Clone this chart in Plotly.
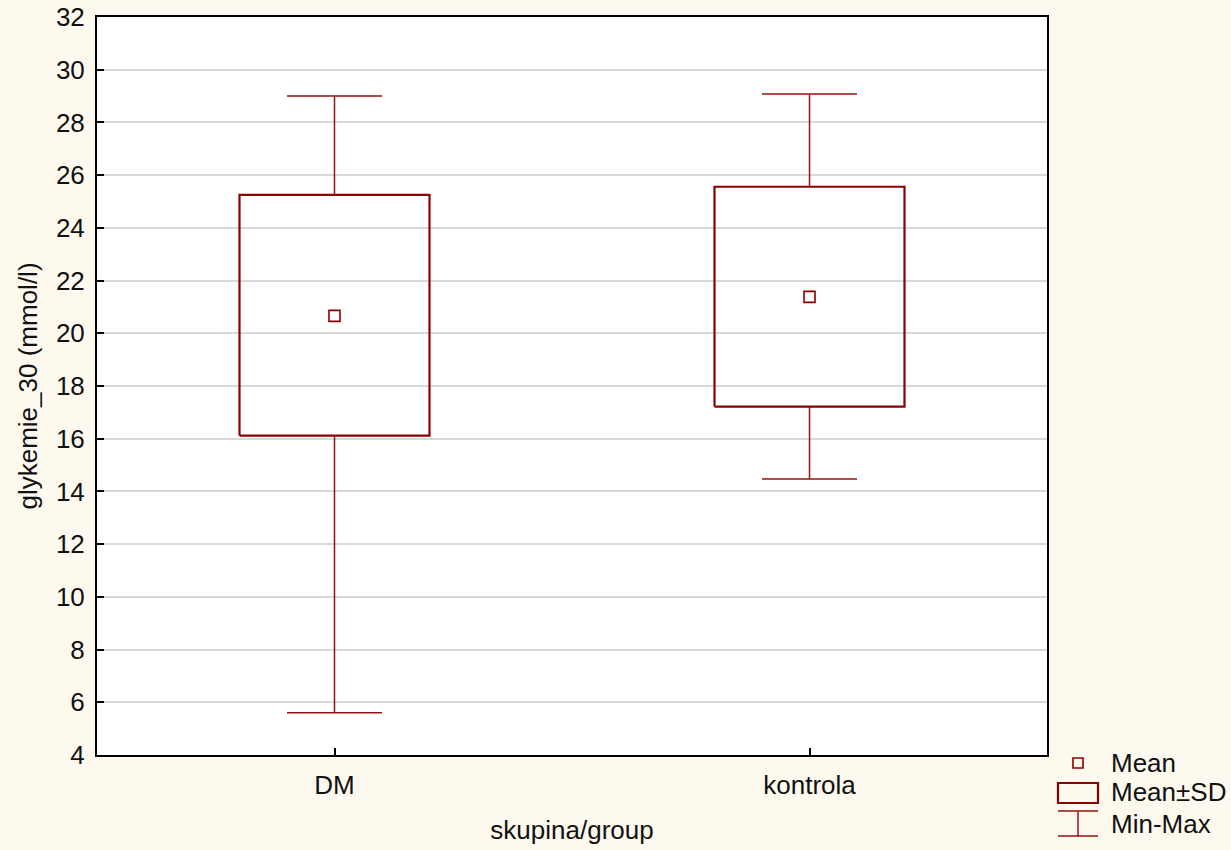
import plotly.graph_objects as go

categories = ["DM", "kontrola"]
means = [20.66, 21.38]
sd_upper = [25.25, 25.56]
sd_lower = [16.12, 17.22]
maxs = [29.0, 29.08]
mins = [5.6, 14.47]
y_ticks = list(range(4, 33, 2))

RED = "#8B0000"
WRED = "#9B1010"
BG = "#FDF9EF"
fig = go.Figure()

box_half = 0.2
cap_half = 0.1
for i, c in enumerate(categories):
    fig.add_trace(go.Scatter(x=[i, i, None, i - cap_half, i + cap_half],
                             y=[sd_upper[i], maxs[i], None, maxs[i], maxs[i]],
                             mode="lines", line=dict(color=WRED, width=1.5),
                             showlegend=False, hoverinfo="skip"))
    fig.add_trace(go.Scatter(x=[i, i, None, i - cap_half, i + cap_half],
                             y=[sd_lower[i], mins[i], None, mins[i], mins[i]],
                             mode="lines", line=dict(color=WRED, width=1.5),
                             showlegend=False, hoverinfo="skip"))
    fig.add_trace(go.Scatter(x=[i - box_half, i + box_half, i + box_half, i - box_half, i - box_half],
                             y=[sd_lower[i], sd_lower[i], sd_upper[i], sd_upper[i], sd_lower[i]],
                             mode="lines", line=dict(color=RED, width=2.2),
                             showlegend=False, hoverinfo="skip"))
    fig.add_trace(go.Scatter(x=[i], y=[means[i]], mode="markers",
                             marker=dict(symbol="square-open", size=11, color=RED, line=dict(width=1.6)),
                             showlegend=False))

FS = 26
fig.update_layout(
    width=1231, height=850,
    paper_bgcolor=BG, plot_bgcolor="white",
    margin=dict(l=97, r=184, t=17, b=95, autoexpand=False),
    font=dict(family="Liberation Sans, Arial, sans-serif", size=FS, color="#111111"),
    xaxis=dict(range=[-0.5, 1.5], tickvals=[0, 1], ticktext=categories,
               ticks="inside", ticklen=7, tickwidth=2, tickcolor="black",
               showgrid=False, zeroline=False, automargin=False,
               tickfont=dict(size=FS), ticklabelstandoff=6,
               showline=True, linecolor="black", linewidth=2, mirror=True,
               title=dict(text="skupina/group", standoff=22, font=dict(size=FS))),
    yaxis=dict(range=[4, 32], tickvals=y_ticks,
               ticks="inside", ticklen=7, tickwidth=2, tickcolor="black",
               showgrid=True, gridcolor="#d9d9d9", gridwidth=1.5, zeroline=False,
               automargin=False, tickfont=dict(size=FS), ticklabelstandoff=5,
               showline=True, linecolor="black", linewidth=2, mirror=True,
               title=dict(text="glykemie_30 (mmol/l)", standoff=11, font=dict(size=FS))),
)

pl, pr, pt, pb = 97, 1047, 17, 755
def px(x):
    return (x - pl) / (pr - pl)
def py(y):
    return (pb - y) / (pb - pt)

shapes = []
shapes.append(dict(type="rect", xref="paper", yref="paper",
                   x0=px(1073), x1=px(1083), y0=py(768), y1=py(758),
                   line=dict(color=RED, width=1.6), fillcolor="rgba(0,0,0,0)"))
shapes.append(dict(type="rect", xref="paper", yref="paper",
                   x0=px(1058), x1=px(1098), y0=py(803), y1=py(783),
                   line=dict(color=RED, width=2.2), fillcolor="rgba(0,0,0,0)"))
shapes.append(dict(type="line", xref="paper", yref="paper",
                   x0=px(1058), x1=px(1098), y0=py(811), y1=py(811),
                   line=dict(color=WRED, width=1.5)))
shapes.append(dict(type="line", xref="paper", yref="paper",
                   x0=px(1078), x1=px(1078), y0=py(811), y1=py(836),
                   line=dict(color=WRED, width=1.5)))
shapes.append(dict(type="line", xref="paper", yref="paper",
                   x0=px(1058), x1=px(1098), y0=py(836), y1=py(836),
                   line=dict(color=WRED, width=1.5)))
fig.update_layout(shapes=shapes)

for label, yy in [("Mean", 763), ("Mean±SD", 792), ("Min-Max", 824)]:
    fig.add_annotation(text=label, xref="paper", yref="paper",
                       x=px(1109), y=py(yy), xanchor="left", yanchor="middle",
                       showarrow=False, font=dict(size=FS))

fig.write_html("out.html", config={"displayModeBar": False},
               post_script="document.body.style.margin='0';document.body.style.overflow='hidden';")
